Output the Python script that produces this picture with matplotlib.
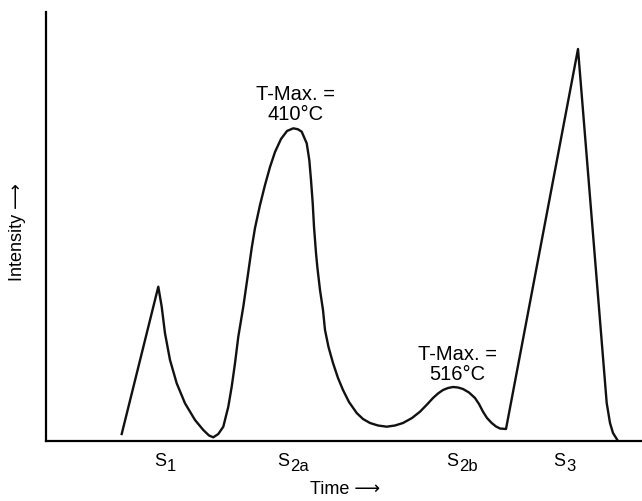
import matplotlib
matplotlib.use("Agg")
import matplotlib.pyplot as plt

plt.rcParams['font.family'] = ['Liberation Sans', 'DejaVu Sans']

# pyrolysis trace (time, intensity in arbitrary units)
time = [121.7, 158.3, 161.7, 165, 170, 176.7, 185, 195, 203.3, 209, 213.3,
        218.3, 223.3, 228.3, 231.7, 235, 238.3, 243.3, 248.3, 251.7, 255,
        260, 265, 270, 275, 281, 287, 293.3, 298, 301.7,
        306.7, 309.3, 311, 312.7, 314, 316, 317.3, 320, 323, 325,
        328.5, 333, 338, 343, 349, 356.7, 363, 370, 378, 386.7,
        395, 403, 412, 420, 427, 433, 438, 443, 448, 453,
        458, 463, 469, 475, 479, 483, 487, 491.7, 496, 500,
        506, 578, 606.7, 610, 613, 618]
intensity = [7, 154.3, 134.3, 107.7, 81, 57.7, 37.7, 21, 11, 5.5, 3.7,
             7, 14.3, 34.3, 54.3, 77.7, 104.3, 134.3, 169, 193, 213,
             236, 256, 274, 289, 302, 310, 312.7, 311.7, 309.3,
             297.7, 281, 261, 238, 214.3, 188, 174.3, 151, 131, 111,
             94, 78, 63, 51, 39, 28, 22, 18, 15.5, 14.3,
             15.5, 18, 23, 29.3, 36.5, 43, 47.5, 51, 53, 54,
             53.5, 52, 48.5, 43, 37, 29.3, 23, 18, 14.5, 12.5,
             12, 392, 38, 18, 8, 0]

peak_main = ['S', 'S', 'S', 'S']
peak_sub = ['1', '2a', '2b', '3']
peak_pos = [166, 289, 458, 565]

tmax_labels = ['T-Max. =\n410°C', 'T-Max. =\n516°C']
tmax_x = [296, 457]
tmax_y = [356, 96]

fig = plt.figure(figsize=(6.42, 5.01), dpi=100)
ax = fig.add_axes([46 / 642, 60 / 501, 596 / 642, 429 / 501])

ax.plot(time, intensity, color='#111111', lw=1.7, solid_joinstyle='round')

ax.set_xlim(46, 642)
ax.set_ylim(0, 429)
ax.spines['top'].set_visible(False)
ax.spines['right'].set_visible(False)
ax.spines['left'].set_linewidth(1.6)
ax.spines['bottom'].set_linewidth(1.6)
ax.set_xticks([])
ax.set_yticks([])

# peak names under the axis, with big subscripts like the original
for m, s, x in zip(peak_main, peak_sub, peak_pos):
    ax.annotate(m, (x, 0), xytext=(0, -12), textcoords='offset pixels',
                ha='right', va='top', fontsize=13, annotation_clip=False)
    ax.annotate(s, (x, 0), xytext=(1, -18), textcoords='offset pixels',
                ha='left', va='top', fontsize=12, annotation_clip=False)

for lab, x, y in zip(tmax_labels, tmax_x, tmax_y):
    ax.text(x, y, lab, ha='center', va='top', fontsize=14.5,
            linespacing=1.05)

fig.text(345 / 642, 1 - 490 / 501, 'Time \u27f6', ha='center', va='center',
         fontsize=13)
fig.text(17.5 / 642, 1 - 232 / 501, 'Intensity \u27f6', ha='center',
         va='center', rotation=90, fontsize=13)

fig.savefig('out.png', dpi=100)
